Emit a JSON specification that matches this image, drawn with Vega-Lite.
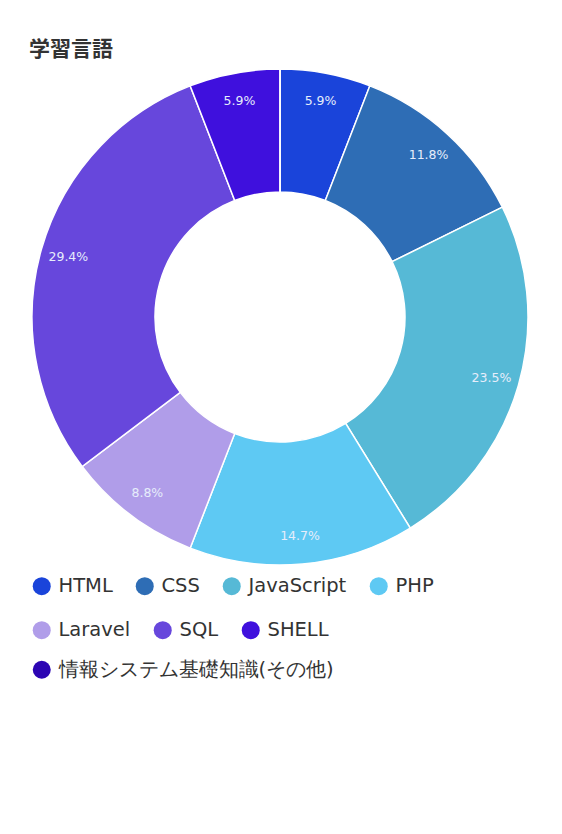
{
  "$schema": "https://vega.github.io/schema/vega-lite/v6.json",
  "width": 496,
  "height": 496,
  "autosize": {"type": "none"},
  "padding": {"left": 32, "top": 69, "right": 34, "bottom": 269},
  "background": "white",
  "title": {
    "text": "学習言語",
    "anchor": "start",
    "orient": "top",
    "font": "Noto Sans CJK JP",
    "fontSize": 21,
    "fontWeight": "bold",
    "color": "#333333",
    "offset": -15,
    "baseline": "bottom"
  },
  "data": {
    "values": [
      {"lang": "HTML", "share": 0.059, "idx": 1},
      {"lang": "CSS", "share": 0.118, "idx": 2},
      {"lang": "JavaScript", "share": 0.235, "idx": 3},
      {"lang": "PHP", "share": 0.147, "idx": 4},
      {"lang": "Laravel", "share": 0.088, "idx": 5},
      {"lang": "SQL", "share": 0.294, "idx": 6},
      {"lang": "SHELL", "share": 0.059, "idx": 7},
      {"lang": "情報システム基礎知識(その他)", "share": 0, "idx": 8}
    ]
  },
  "layer": [
    {
      "mark": {"type": "arc", "outerRadius": 248, "innerRadius": 125, "stroke": "white", "strokeWidth": 1.5},
      "encoding": {
        "theta": {"field": "share", "type": "quantitative", "stack": true},
        "order": {"field": "idx", "type": "quantitative"},
        "color": {
          "field": "lang",
          "type": "nominal",
          "scale": {
            "domain": ["HTML", "CSS", "JavaScript", "PHP", "Laravel", "SQL", "SHELL", "情報システム基礎知識(その他)"],
            "range": ["#1a44da", "#2e6db5", "#56b9d6", "#5ec9f3", "#b09de9", "#6747dc", "#3f10dd", "#2c05b3"]
          },
          "legend": {
            "title": null,
            "orient": "none",
            "legendX": 0,
            "legendY": 507,
            "direction": "horizontal",
            "values": ["HTML", "CSS", "JavaScript", "PHP"],
            "symbolType": "circle",
            "symbolSize": 324,
            "symbolStrokeWidth": 0,
            "symbolOpacity": 1,
            "labelFont": "DejaVu Sans",
            "labelFontSize": 19.5,
            "labelColor": "#333333",
            "labelOffset": 7,
            "columnPadding": 22
          }
        }
      }
    },
    {
      "mark": {"type": "text", "radius": 220, "fontSize": 12.5, "font": "DejaVu Sans", "color": "#e6edfb"},
      "transform": [{"filter": "datum.share > 0"}],
      "encoding": {
        "theta": {"field": "share", "type": "quantitative", "stack": true},
        "order": {"field": "idx", "type": "quantitative"},
        "text": {"field": "share", "type": "quantitative", "format": ".1%"}
      }
    },
    {
      "mark": {"type": "arc", "outerRadius": 248, "innerRadius": 125, "opacity": 0},
      "transform": [{"filter": "datum.idx >= 5 && datum.idx <= 7"}],
      "encoding": {
        "theta": {"field": "share", "type": "quantitative", "stack": true},
        "order": {"field": "idx", "type": "quantitative"},
        "color": {
          "field": "lang",
          "type": "nominal",
          "scale": {"domain": ["Laravel", "SQL", "SHELL"], "range": ["#b09de9", "#6747dc", "#3f10dd"]},
          "legend": {
            "title": null,
            "orient": "none",
            "legendX": 0,
            "legendY": 551,
            "direction": "horizontal",
            "symbolType": "circle",
            "symbolSize": 324,
            "symbolStrokeWidth": 0,
            "symbolOpacity": 1,
            "labelFont": "DejaVu Sans",
            "labelFontSize": 19.5,
            "labelColor": "#333333",
            "labelOffset": 7,
            "columnPadding": 22
          }
        }
      }
    },
    {
      "mark": {"type": "arc", "outerRadius": 248, "innerRadius": 125, "opacity": 0},
      "transform": [{"filter": "datum.idx == 8"}],
      "encoding": {
        "theta": {"field": "share", "type": "quantitative", "stack": true},
        "color": {
          "field": "lang",
          "type": "nominal",
          "scale": {"domain": ["情報システム基礎知識(その他)"], "range": ["#2c05b3"]},
          "legend": {
            "title": null,
            "orient": "none",
            "legendX": 0,
            "legendY": 591,
            "symbolType": "circle",
            "symbolSize": 324,
            "symbolStrokeWidth": 0,
            "symbolOpacity": 1,
            "labelFont": "DejaVu Sans",
            "labelFontSize": 19.5,
            "labelColor": "#333333",
            "labelOffset": 7,
            "labelLimit": 500
          }
        }
      }
    }
  ],
  "resolve": {"scale": {"color": "independent"}},
  "config": {"view": {"stroke": null}}
}
